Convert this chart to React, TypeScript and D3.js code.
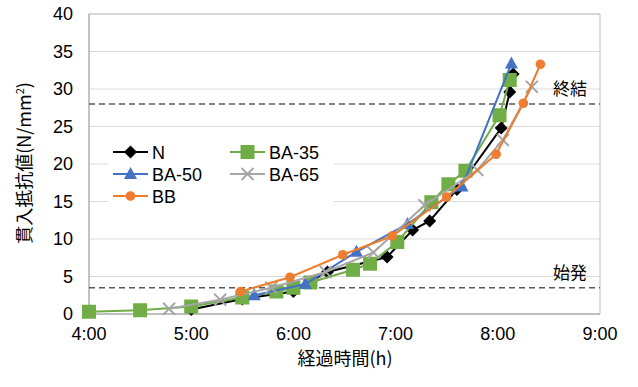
import React from 'react'
import * as d3 from 'd3'

// elapsed time (h:mm) and penetration resistance (N/mm2) for each mix
const nTimes = ['5:00', '5:30', '6:00', '6:20', '6:55', '7:10', '7:20', '7:36', '8:02', '8:07', '8:09']
const nValues = [0.6, 2.0, 3.0, 5.6, 7.6, 11.2, 12.4, 16.6, 24.8, 29.6, 32.0]

const ba35Times = ['4:00', '4:30', '5:00', '5:30', '5:50', '6:00', '6:10', '6:35', '6:45', '7:01', '7:21', '7:31', '7:41', '8:01', '8:07']
const ba35Values = [0.3, 0.5, 1.0, 2.2, 3.0, 3.5, 4.2, 5.9, 6.7, 9.6, 14.9, 17.3, 19.1, 26.5, 31.2]

const ba50Times = ['5:37', '6:07', '6:37', '7:07', '7:39', '8:08']
const ba50Values = [2.5, 4.0, 8.3, 12.0, 17.0, 33.4]

const ba65Times = ['4:47', '5:17', '5:47', '6:19', '6:47', '7:17', '7:48', '8:03', '8:20']
const ba65Values = [0.7, 1.9, 3.5, 5.6, 8.2, 14.5, 19.2, 23.2, 30.3]

const bbTimes = ['5:29', '5:58', '6:29', '6:58', '7:30', '7:59', '8:15', '8:25']
const bbValues = [3.0, 4.9, 7.9, 10.4, 15.6, 21.3, 28.1, 33.3]

const xTicks = ['4:00', '5:00', '6:00', '7:00', '8:00', '9:00']
const yTicks = [0, 5, 10, 15, 20, 25, 30, 35, 40]

const setTime = 28 // 終結
const initTime = 3.5 // 始発

const toMin = (s: string) => {
  const [h, m] = s.split(':').map(Number)
  return h * 60 + m
}

const series = [
  { name: 'N', times: nTimes, values: nValues, color: '#000000', marker: 'diamond' },
  { name: 'BA-35', times: ba35Times, values: ba35Values, color: '#70AD47', marker: 'square' },
  { name: 'BA-50', times: ba50Times, values: ba50Values, color: '#4472C4', marker: 'triangle' },
  { name: 'BA-65', times: ba65Times, values: ba65Values, color: '#A5A5A5', marker: 'cross' },
  { name: 'BB', times: bbTimes, values: bbValues, color: '#ED7D31', marker: 'circle' },
]

const font = '"Liberation Sans", Arial, sans-serif'
const jpFont = '"Noto Sans CJK JP", sans-serif'

function Marker({ type, x, y, color }: { type: string; x: number; y: number; color: string }) {
  if (type === 'diamond') {
    return <path d={`M${x},${y - 6.5}L${x + 6.5},${y}L${x},${y + 6.5}L${x - 6.5},${y}Z`} fill={color} />
  }
  if (type === 'square') {
    return <rect x={x - 7} y={y - 7} width={14} height={14} fill={color} />
  }
  if (type === 'triangle') {
    return <path d={`M${x},${y - 7}L${x + 6.5},${y + 5}L${x - 6.5},${y + 5}Z`} fill={color} />
  }
  if (type === 'cross') {
    return (
      <path d={`M${x - 6},${y - 6}L${x + 6},${y + 6}M${x - 6},${y + 6}L${x + 6},${y - 6}`}
        stroke={color} strokeWidth={1.8} fill="none" />
    )
  }
  return <circle cx={x} cy={y} r={4.8} fill={color} />
}

export default function App() {
  React.useEffect(() => {
    document.body.style.margin = '0'
  }, [])

  const x = d3.scaleLinear().domain([240, 540]).range([89, 600])
  const y = d3.scaleLinear().domain([0, 40]).range([314, 14])
  const [x0, x1] = x.range()

  const line = d3.line<[number, number]>()
    .x(d => x(d[0]))
    .y(d => y(d[1]))

  const legend = [
    { s: series[0], lx: 113, ly: 152 },
    { s: series[1], lx: 230, ly: 152 },
    { s: series[2], lx: 113, ly: 174 },
    { s: series[3], lx: 230, ly: 174 },
    { s: series[4], lx: 113, ly: 196 },
  ]

  return (
    <svg width={638} height={387} style={{ display: 'block', background: '#fff' }}>
      {/* gridlines */}
      {yTicks.map(t => (
        <line key={t} x1={x0} x2={x1} y1={y(t)} y2={y(t)} stroke="#D9D9D9" strokeWidth={1} />
      ))}
      <rect x={x0} y={y(40)} width={x1 - x0} height={y(0) - y(40)} fill="none" stroke="#BFBFBF" />
      <line x1={x0} x2={x0} y1={y(40)} y2={y(0)} stroke="#A6A6A6" />
      <line x1={x0} x2={x1} y1={y(0)} y2={y(0)} stroke="#A6A6A6" />

      {/* reference lines */}
      {[setTime, initTime].map(v => (
        <line key={v} x1={x0} x2={x1} y1={y(v)} y2={y(v)} stroke="#595959" strokeWidth={1.3} strokeDasharray="6,4" />
      ))}
      <text x={553} y={y(setTime) - 9} fontFamily={jpFont} fontSize={17} fill="#000">終結</text>
      <text x={553} y={y(initTime) - 9} fontFamily={jpFont} fontSize={17} fill="#000">始発</text>

      {/* series */}
      {series.map(s => {
        const pts: [number, number][] = s.times.map((t, i) => [toMin(t), s.values[i]])
        return (
          <g key={s.name}>
            <path d={line(pts) || ''} fill="none" stroke={s.color} strokeWidth={2} />
            {pts.map((p, i) => (
              <Marker key={i} type={s.marker} x={x(p[0])} y={y(p[1])} color={s.color} />
            ))}
          </g>
        )
      })}

      {/* axis labels */}
      {yTicks.map(t => (
        <text key={t} x={73} y={y(t) + 6} textAnchor="end" fontFamily={font} fontSize={18} fill="#000">{t}</text>
      ))}
      {xTicks.map(t => (
        <text key={t} x={x(toMin(t))} y={340} textAnchor="middle" fontFamily={font} fontSize={18} fill="#000">{t}</text>
      ))}
      <text x={345} y={365} textAnchor="middle" fontFamily={jpFont} fontSize={18} fill="#000">経過時間(h)</text>
      <text transform="translate(31,163) rotate(-90)" textAnchor="middle" fontFamily={jpFont} fontSize={18} fill="#000">
        貫入抵抗値(N/mm<tspan dy={-7} fontSize={11}>2</tspan><tspan dy={7}>)</tspan>
      </text>

      {/* legend */}
      <rect x={108} y={140} width={226} height={68} fill="#fff" />
      {legend.map(({ s, lx, ly }) => (
        <g key={s.name}>
          <line x1={lx} x2={lx + 35} y1={ly} y2={ly} stroke={s.color} strokeWidth={2} />
          <Marker type={s.marker} x={lx + 17.5} y={ly} color={s.color} />
          <text x={lx + 39} y={ly + 6.5} fontFamily={font} fontSize={18} fill="#000">{s.name}</text>
        </g>
      ))}
    </svg>
  )
}
